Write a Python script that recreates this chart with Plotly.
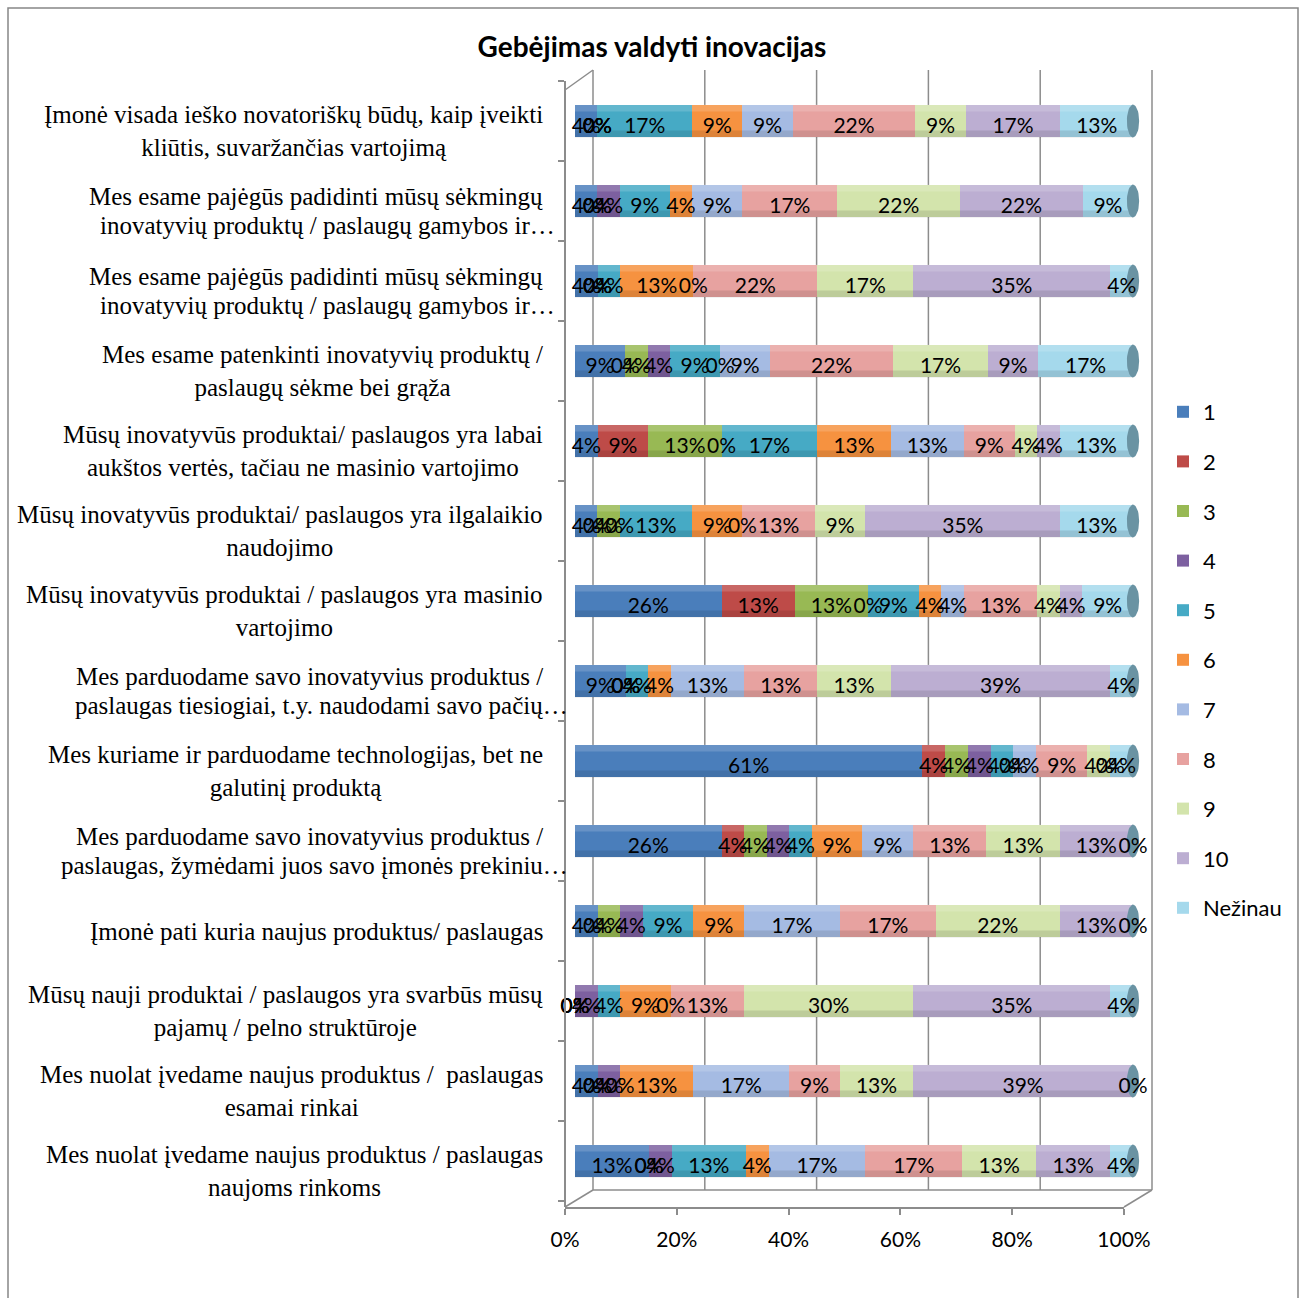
import math
import plotly.graph_objects as go

# Statements (top to bottom) rated on a 1-10 scale plus "Nežinau"
statements = [
    "Įmonė visada ieško novatoriškų būdų, kaip įveikti<br>kliūtis, suvaržančias vartojimą",
    "Mes esame pajėgūs padidinti mūsų sėkmingų<br>inovatyvių produktų / paslaugų gamybos ir…",
    "Mes esame pajėgūs padidinti mūsų sėkmingų<br>inovatyvių produktų / paslaugų gamybos ir…",
    "Mes esame patenkinti inovatyvių produktų /<br>paslaugų sėkme bei grąža",
    "Mūsų inovatyvūs produktai/ paslaugos yra labai<br>aukštos vertės, tačiau ne masinio vartojimo",
    "Mūsų inovatyvūs produktai/ paslaugos yra ilgalaikio<br>naudojimo",
    "Mūsų inovatyvūs produktai / paslaugos yra masinio<br>vartojimo",
    "Mes parduodame savo inovatyvius produktus /<br>paslaugas tiesiogiai, t.y. naudodami savo pačių…",
    "Mes kuriame ir parduodame technologijas, bet ne<br>galutinį produktą",
    "Mes parduodame savo inovatyvius produktus /<br>paslaugas, žymėdami juos savo įmonės prekiniu…",
    "Įmonė pati kuria naujus produktus/ paslaugas",
    "Mūsų nauji produktai / paslaugos yra svarbūs mūsų<br>pajamų / pelno struktūroje",
    "Mes nuolat įvedame naujus produktus /  paslaugas<br>esamai rinkai",
    "Mes nuolat įvedame naujus produktus / paslaugas<br>naujoms rinkoms",
]

# Share of answers (%) per score, one value per statement
score_1 = [4, 4, 4, 9, 4, 4, 26, 9, 61, 26, 4, 0, 4, 13]
score_2 = [0, 0, 0, 0, 9, 0, 13, 0, 4, 4, 0, 0, 0, 0]
score_3 = [0, 0, 0, 4, 13, 4, 13, 0, 4, 4, 4, 0, 0, 0]
score_4 = [0, 4, 0, 4, 0, 0, 0, 0, 4, 4, 4, 4, 4, 4]
score_5 = [17, 9, 4, 9, 17, 13, 9, 4, 4, 4, 9, 4, 0, 13]
score_6 = [9, 4, 13, 0, 13, 9, 4, 4, 0, 9, 9, 9, 13, 4]
score_7 = [9, 9, 0, 9, 13, 0, 4, 13, 4, 9, 17, 0, 17, 17]
score_8 = [22, 17, 22, 22, 9, 13, 13, 13, 9, 13, 17, 13, 9, 17]
score_9 = [9, 22, 17, 17, 4, 9, 4, 13, 4, 13, 22, 30, 13, 13]
score_10 = [17, 22, 35, 9, 4, 35, 4, 39, 0, 13, 13, 35, 39, 13]
score_dk = [13, 9, 4, 17, 13, 13, 9, 4, 4, 0, 0, 4, 0, 4]

series_names = ["1", "2", "3", "4", "5", "6", "7", "8", "9", "10", "Nežinau"]
series_values = [score_1, score_2, score_3, score_4, score_5, score_6,
                 score_7, score_8, score_9, score_10, score_dk]
series_colors = ["#4A7EBB", "#BE4B48", "#98B954", "#7D60A0", "#46AAC5", "#F69240",
                 "#A5BBE3", "#E7A2A0", "#D3E4AC", "#BCAED2", "#A5D9EC"]

tick_values = [0, 20, 40, 60, 80, 100]
tick_text = ["0%", "20%", "40%", "60%", "80%", "100%"]

W, H = 1306, 1298
ML, MR, MT, MB = 560, 146, 60, 91
PW, PH = W - ML - MR, H - MT - MB


def px_x(p):
    return (p - ML) / PW


def px_y(p):
    return (H - MB - p) / PH


rows = list(range(len(statements)))
HALF = 0.205  # half thickness of a bar, in row units
X_MAX = 102.15  # a little room past 100 % for the cylinder caps
fig = go.Figure()

for name, vals, col in zip(series_names, series_values, series_colors):
    fig.add_trace(go.Bar(
        name=name, x=vals, y=rows, orientation="h",
        marker=dict(color=col, line=dict(width=0)),
        width=2 * HALF, legendgroup=name, hoverinfo="skip",
    ))

# cylinder shading: light band along the top, darker band along the bottom
hi_x, hi_y, lo_x, lo_y = [], [], [], []
for i in rows:
    hi_x += [0, 100, 100, 0, 0, None]
    hi_y += [i - HALF, i - HALF, i - 0.12, i - 0.12, i - HALF, None]
    lo_x += [0, 100, 100, 0, 0, None]
    lo_y += [i + 0.12, i + 0.12, i + HALF, i + HALF, i + 0.12, None]
fig.add_trace(go.Scatter(x=hi_x, y=hi_y, fill="toself", mode="lines",
                         fillcolor="rgba(255,255,255,0.16)", line=dict(width=0),
                         showlegend=False, hoverinfo="skip"))
fig.add_trace(go.Scatter(x=lo_x, y=lo_y, fill="toself", mode="lines",
                         fillcolor="rgba(0,0,0,0.10)", line=dict(width=0),
                         showlegend=False, hoverinfo="skip"))

# elliptical end caps of the cylinders
cap_x, cap_y = [], []
for i in rows:
    for k in range(41):
        t = 2 * math.pi * k / 40
        cap_x.append(100 + 1.1 * math.cos(t))
        cap_y.append(i + HALF * math.sin(t))
    cap_x.append(None)
    cap_y.append(None)
fig.add_trace(go.Scatter(x=cap_x, y=cap_y, fill="toself", mode="lines",
                         fillcolor="#6A93A3", line=dict(width=0),
                         showlegend=False, hoverinfo="skip"))

# data labels centred on each stacked segment (bars are normalised to 100 %)
lab_x, lab_y, lab_t = [], [], []
totals = [sum(v[i] for v in series_values) for i in rows]
for i in rows:
    cum = 0.0
    for vals in series_values:
        share = vals[i] / totals[i] * 100
        lab_x.append(cum + share / 2)
        lab_y.append(i + 0.085)
        lab_t.append(f"{vals[i]}%")
        cum += share
fig.add_trace(go.Scatter(
    x=lab_x, y=lab_y, text=lab_t, mode="text", showlegend=False,
    textfont=dict(family="Lato", size=21, color="#000000"),
    cliponaxis=False, hoverinfo="skip",
))

# keeps the front percentage axis drawn
fig.add_trace(go.Scatter(x=[None], y=[None], xaxis="x2", yaxis="y",
                         showlegend=False, hoverinfo="skip"))

GRID = "#8C8C8C"
shapes = []
# back wall gridlines
bx0, bx1, top_y, floor_y = 593, 1152, 70, 1190
for v in tick_values:
    gx = bx0 + v * (bx1 - bx0) / 100
    shapes.append(dict(type="line", xref="paper", yref="paper",
                       x0=px_x(gx), x1=px_x(gx), y0=px_y(top_y), y1=px_y(floor_y),
                       line=dict(color=GRID, width=1.5), layer="below"))
# floor and side edges of the 3-D frame
for (x0, y0, x1, y1) in [(593, 1190, 1152, 1190), (565, 1207, 593, 1190),
                         (1124, 1207, 1152, 1190), (565, 90, 593, 70)]:
    shapes.append(dict(type="line", xref="paper", yref="paper",
                       x0=px_x(x0), x1=px_x(x1), y0=px_y(y0), y1=px_y(y1),
                       line=dict(color=GRID, width=1.5), layer="below"))
# chart border
shapes.append(dict(type="rect", xref="paper", yref="paper",
                   x0=px_x(8), x1=px_x(1298), y0=px_y(1302), y1=px_y(8),
                   line=dict(color="#868686", width=1.5), layer="below"))

LABEL_FONT = dict(family="Liberation Serif", size=25, color="#000000")
# right edge of the overflowing second line for statements that are cut short
cut_line_end = {1: 557, 2: 557, 7: 570, 9: 570}
annotations = []
for i, s in enumerate(statements):
    if i in cut_line_end:
        first, second = s.split("<br>")
        annotations.append(dict(text=first, xref="paper", yref="y", x=px_x(545), y=i,
                                xanchor="right", yanchor="middle", showarrow=False,
                                yshift=-10 + 14.5, font=LABEL_FONT))
        annotations.append(dict(text=second, xref="paper", yref="y",
                                x=px_x(cut_line_end[i]), y=i, xanchor="right",
                                yanchor="middle", showarrow=False,
                                yshift=-10 - 14.5, font=LABEL_FONT))
    else:
        annotations.append(dict(text=s, xref="paper", yref="y", x=px_x(545), y=i,
                                xanchor="right", yanchor="middle", align="center",
                                showarrow=False, yshift=-10, font=LABEL_FONT))

bar_left, bar_full = 575, 1133  # pixel positions of 0 % and 100 % on the bars
fig.update_layout(
    width=W, height=H,
    margin=dict(l=ML, r=MR, t=MT, b=MB),
    paper_bgcolor="#FFFFFF", plot_bgcolor="rgba(0,0,0,0)",
    barmode="stack", barnorm="percent",
    title=dict(text="<b>Gebėjimas valdyti inovacijas</b>", x=652 / W, xanchor="center",
               xref="container", y=1 - 47 / H, yanchor="middle",
               font=dict(family="Lato", size=28, color="#000000")),
    xaxis=dict(domain=[px_x(bar_left),
                       px_x(bar_left + (bar_full - bar_left) * X_MAX / 100)],
               range=[0, X_MAX], visible=False, anchor="y", fixedrange=True),
    xaxis2=dict(domain=[px_x(565), px_x(1124)], range=[0, 100], anchor="y",
                tickvals=tick_values, ticktext=tick_text, showgrid=False, zeroline=False,
                showline=True, linecolor=GRID, linewidth=1.5,
                ticks="outside", ticklen=6, tickcolor=GRID, tickwidth=1.5,
                ticklabelstandoff=7,
                tickfont=dict(family="Lato", size=21, color="#000000")),
    yaxis=dict(domain=[0, px_y(81)], range=[13.575, -0.5], anchor="free",
               position=px_x(565), showline=True, linecolor=GRID, linewidth=1.5,
               tickvals=[r - 0.5 for r in rows] + [len(rows) - 0.5],
               showticklabels=False, ticks="outside", ticklen=6, tickcolor=GRID,
               tickwidth=1.5, showgrid=False, zeroline=False),
    legend=dict(x=px_x(1163), y=px_y(391), xanchor="left", yanchor="top",
                traceorder="grouped", tracegroupgap=18,
                font=dict(family="Lato", size=22, color="#000000"),
                bgcolor="rgba(0,0,0,0)"),
    shapes=shapes, annotations=annotations,
)

fig.write_html("out.html")
